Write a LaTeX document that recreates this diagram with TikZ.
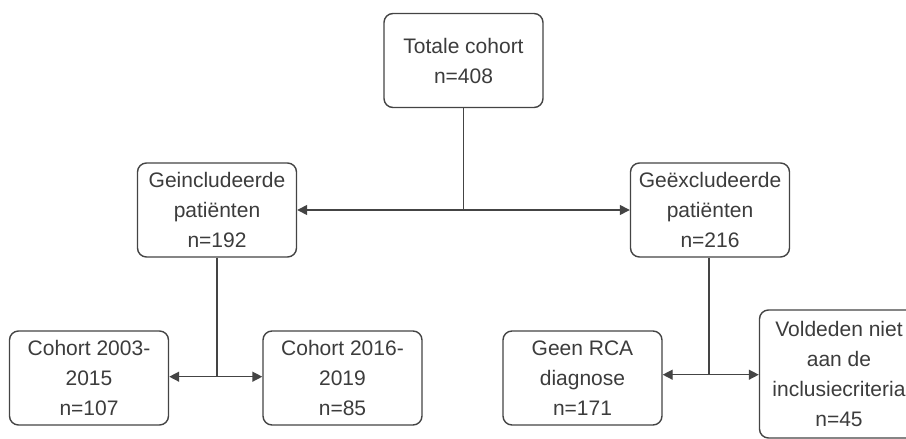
\documentclass[tikz,border=0pt]{standalone}
\usepackage{fontspec}
\setmainfont{Liberation Sans}
\usetikzlibrary{arrows.meta,positioning,calc}
\definecolor{boxline}{HTML}{444444}
\definecolor{boxtext}{HTML}{3C3C3C}

\begin{document}
\begin{tikzpicture}[
  x=1pt, y=-1pt,
  cohortbox/.style = {rectangle, rounded corners=9pt,
                      draw=boxline, line width=1.4pt, fill=white,
                      align=center, text=boxtext, inner sep=2pt,
                      font=\fontsize{21}{30}\selectfont,
                      minimum width=159pt, minimum height=94pt},
  arr/.style  = {-{Triangle[length=10pt,width=10pt]}, line width=1.4pt, boxline},
  stem/.style = {line width=1.4pt, boxline},
]

\useasboundingbox (0,0) rectangle (906,439);

%%═══════════════════════════════════════════════════════════
%% TIER 1 — Total cohort
%%═══════════════════════════════════════════════════════════

\node[cohortbox] (total) at (463.5,60.5)
  {Totale cohort\\n=408};

%%═══════════════════════════════════════════════════════════
%% TIER 2 — Included / excluded
%%═══════════════════════════════════════════════════════════

\node[cohortbox] (incl) at (217,210)
  {Geincludeerde\\patiënten\\n=192};
\node[cohortbox] (excl) at (710,210)
  {Geëxcludeerde\\patiënten\\n=216};

\coordinate (splitA) at (total.south |- incl.east);
\draw[stem] (total.south) -- (splitA);
\draw[arr] (splitA) -- (incl.east);
\draw[arr] (splitA) -- (excl.west);

%%═══════════════════════════════════════════════════════════
%% TIER 3 — Subgroups
%%═══════════════════════════════════════════════════════════

\node[cohortbox] (early) at (89,378)
  {Cohort 2003-\\2015\\n=107};
\node[cohortbox] (late) at (342.5,378)
  {Cohort 2016-\\2019\\n=85};

\coordinate (splitB) at ($(incl.south)+(0,119)$);
\draw[stem] (incl.south) -- (splitB);
\draw[arr] (splitB) -- (splitB -| early.east);
\draw[arr] (splitB) -- (splitB -| late.west);

\node[cohortbox] (norca) at (582.5,378)
  {Geen RCA\\diagnose\\n=171};
\node[cohortbox, minimum height=128pt] (nocrit) at (839,374)
  {Voldeden niet\\aan de\\inclusiecriteria\\n=45};

\coordinate (splitC) at ($(excl.south)+(-1,117)$);
\draw[stem] (excl.south -| splitC) -- (splitC);
\draw[arr] (splitC) -- (splitC -| norca.east);
\draw[arr] (splitC) -- (splitC -| nocrit.west);

\end{tikzpicture}
\end{document}
